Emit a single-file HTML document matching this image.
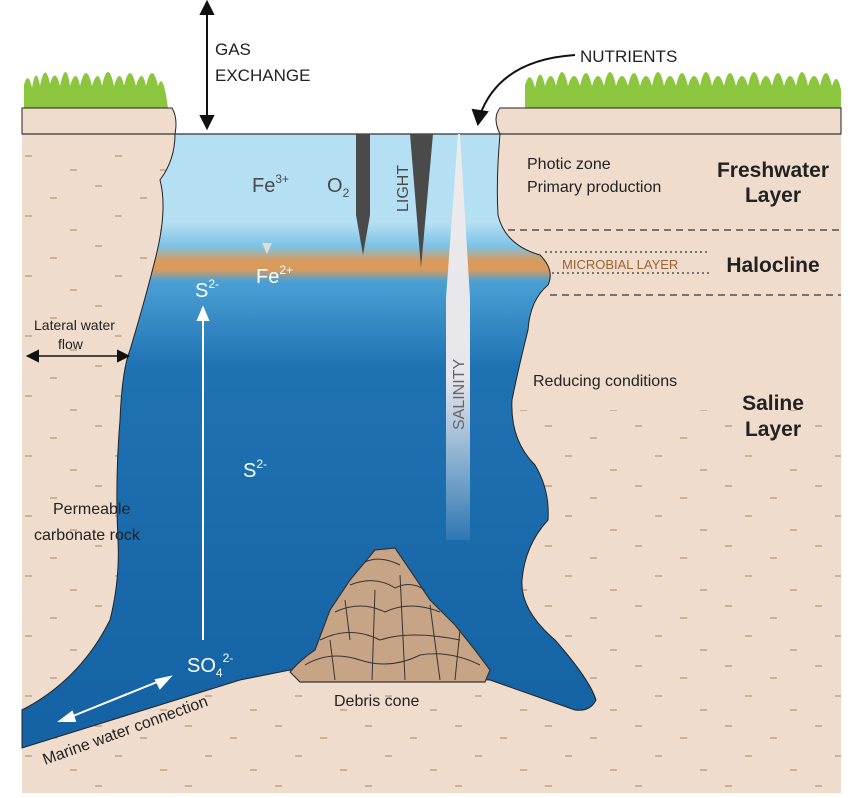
<!DOCTYPE html>
<html><head><meta charset="utf-8"><style>
html,body{margin:0;padding:0;background:#fff}
svg text{font-family:"Liberation Sans","DejaVu Sans",sans-serif}
</style></head><body>
<svg width="850" height="793" viewBox="0 0 850 793" xmlns="http://www.w3.org/2000/svg">
<defs>
<linearGradient id="wg" gradientUnits="userSpaceOnUse" x1="0" y1="135" x2="0" y2="720">
<stop offset="0" stop-color="#b5dff2"/>
<stop offset="0.15" stop-color="#b5dff2"/>
<stop offset="0.19" stop-color="#7cc2e6"/>
<stop offset="0.215" stop-color="#d99a5c"/>
<stop offset="0.23" stop-color="#d99a5c"/>
<stop offset="0.25" stop-color="#4aa0d4"/>
<stop offset="0.4" stop-color="#1f72b2"/>
<stop offset="1" stop-color="#1563a5"/>
</linearGradient>
<linearGradient id="sal" x1="0" y1="0" x2="0" y2="1">
<stop offset="0" stop-color="#ececec"/><stop offset="0.6" stop-color="#e6e6ec"/><stop offset="1" stop-color="#e6e6ec" stop-opacity="0.1"/>
</linearGradient>
<linearGradient id="fe" x1="0" y1="0" x2="0" y2="1">
<stop offset="0" stop-color="#444"/><stop offset="1" stop-color="#ddd"/>
</linearGradient>
<pattern id="dash" width="90" height="60" patternUnits="userSpaceOnUse">
<g stroke="#b89a7a" stroke-width="1.3">
<line x1="5" y1="6" x2="12" y2="6"/><line x1="50" y1="18" x2="57" y2="18"/><line x1="25" y1="36" x2="32" y2="36"/><line x1="70" y1="50" x2="77" y2="50"/>
</g></pattern>
</defs>
<!-- grass -->
<g fill="#8cc63f">
<path d="M24 108 L24 85 Q28 70 32 88 Q36 64 40 86 Q45 60 50 84 Q55 66 60 86 Q66 58 70 86 Q76 66 80 86 Q86 60 92 86 Q98 66 102 86 Q108 58 114 86 Q120 66 124 86 Q130 60 136 86 Q142 66 146 86 Q152 60 158 86 Q163 70 168 108 Z"/>
<path d="M525 108 L525 85 Q530 68 535 88 Q540 62 545 86 Q551 66 556 86 Q562 58 568 86 Q574 66 580 86 Q586 60 592 86 Q598 66 604 86 Q610 58 616 86 Q622 66 628 86 Q634 60 640 86 Q646 66 652 86 Q658 58 664 86 Q670 66 676 86 Q682 60 688 86 Q694 66 700 86 Q706 58 712 86 Q718 66 724 86 Q730 60 736 86 Q742 66 748 86 Q754 58 760 86 Q766 66 772 86 Q778 60 784 86 Q790 66 796 86 Q802 58 808 86 Q814 66 820 86 Q826 60 832 86 Q837 70 841 90 L841 108 Z"/>
</g>
<!-- rock -->
<rect x="22" y="108" width="819" height="685" fill="#f0dccc"/>
<rect x="22" y="140" width="819" height="653" fill="url(#dash)"/>
<rect x="500" y="110" width="341" height="300" fill="#f0dccc"/>
<!-- water -->
<path d="M175 134 L500 134 Q496 180 498 215 Q505 245 540 255 Q555 270 548 285 Q530 300 528 330 Q518 370 512 400 Q510 440 535 465 Q550 490 548 520 Q525 545 522 580 Q520 610 555 640 Q590 680 596 700 Q590 712 575 710 L490 680 L290 670 L240 680 L22 748 L22 710 Q80 680 110 620 Q120 580 118 540 Q115 480 120 420 Q122 370 130 350 Q145 300 155 260 Q168 210 160 180 Q175 160 175 134 Z" fill="url(#wg)" stroke="#222" stroke-width="1"/>
<!-- top white strip & rock tops -->
<rect x="168" y="60" width="335" height="74" fill="#fff"/>
<path d="M22 108 L172 108 Q178 118 175 134 L22 134 Z" fill="#f0dccc" stroke="#222" stroke-width="1"/>
<path d="M841 108 L500 108 Q492 118 500 134 L841 134 Z" fill="#f0dccc" stroke="#222" stroke-width="1"/>
<line x1="22" y1="134" x2="841" y2="134" stroke="#333" stroke-width="1.2"/>
<!-- O2 and light wedges -->
<path d="M356 134 L370 134 L370 215 L363 255 L356 215 Z" fill="#4a4a4a"/>
<path d="M410 134 L433 134 L421 268 Z" fill="#4a4a4a"/>
<!-- salinity -->
<path d="M458 134 L460 134 L470 298 L470 540 L446 540 L446 298 Z" fill="url(#sal)"/>
<!-- debris cone -->
<path d="M290 672 Q300 660 315 650 L330 610 L350 580 L375 550 L395 548 L410 570 L430 600 L455 625 L475 650 L490 670 L485 682 L300 682 Z" fill="#c8a486" stroke="#333" stroke-width="1.2"/>
<g fill="none" stroke="#333" stroke-width="1">
<path d="M305 665 Q330 650 360 660 Q390 670 420 655 Q450 650 480 665"/>
<path d="M320 640 Q350 625 380 640 Q410 630 460 640"/>
<path d="M335 612 Q360 600 385 612 Q410 600 440 612"/>
<path d="M350 585 Q375 575 395 588 Q410 580 425 590"/>
<path d="M365 562 Q380 555 400 565"/>
<path d="M345 600 L350 640 M375 590 L372 680 M400 575 L405 680 M430 605 L440 680 M460 630 L455 680 M330 640 L335 680"/>
</g>
<!-- arrows -->
<g stroke="#111" stroke-width="2" fill="#111">
<line x1="207" y1="12" x2="207" y2="118"/>
<path d="M201 14 L207 2 L213 14 Z"/><path d="M201 116 L207 128 L213 116 Z"/>
<path d="M575 55 Q500 60 480 115" fill="none"/>
<path d="M473 110 L478 124 L487 112 Z"/>
<line x1="34" y1="356" x2="122" y2="356" stroke-width="1.6"/>
<path d="M38 351 L28 356 L38 361 Z"/><path d="M118 351 L128 356 L118 361 Z"/>
</g>
<g stroke="#fff" stroke-width="2" fill="#fff">
<line x1="203" y1="318" x2="203" y2="640"/>
<path d="M198 320 L203 308 L208 320 Z"/>
<line x1="68" y1="718" x2="162" y2="680"/>
<path d="M72 712 L60 721 L75 721 Z"/><path d="M156 680 L170 677 L160 688 Z"/>
</g>
<line x1="267" y1="203" x2="267" y2="245" stroke="url(#fe)" stroke-width="2.5"/>
<path d="M262 243 L267 254 L272 243 Z" fill="#ddd"/>
<!-- dashed lines -->
<g stroke="#333" stroke-width="1.2" fill="none">
<line x1="508" y1="230" x2="841" y2="230" stroke-dasharray="7 5"/>
<line x1="550" y1="295" x2="841" y2="295" stroke-dasharray="7 5"/>
<line x1="545" y1="252" x2="710" y2="252" stroke-dasharray="2 3"/>
<line x1="552" y1="273" x2="712" y2="273" stroke-dasharray="2 3"/>
</g>
<!-- text -->
<g fill="#222" font-size="17">
<text x="215" y="55">GAS</text><text x="215" y="81">EXCHANGE</text>
<text x="580" y="62">NUTRIENTS</text>
</g>
<g fill="#222" font-size="16">
<text x="527" y="169">Photic zone</text><text x="527" y="192">Primary production</text>
<text x="533" y="386">Reducing conditions</text>
<text x="34" y="330" font-size="14">Lateral water</text><text x="58" y="349" font-size="14">flow</text>
<text x="53" y="514">Permeable</text><text x="34" y="540">carbonate rock</text>
<text x="334" y="706">Debris cone</text>
<text x="45" y="765" transform="rotate(-20 45 765)">Marine water connection</text>
</g>
<g fill="#222" font-size="21" font-weight="bold" text-anchor="middle">
<text x="773" y="177">Freshwater</text><text x="773" y="202">Layer</text>
<text x="773" y="272">Halocline</text>
<text x="773" y="410">Saline</text><text x="773" y="436">Layer</text>
</g>
<text x="562" y="269" font-size="13" fill="#9a6332">MICROBIAL LAYER</text>
<g fill="#4a4a4a" font-size="20">
<text x="252" y="192">Fe<tspan font-size="12" dy="-9">3+</tspan></text>
<text x="327" y="192">O<tspan font-size="12" dy="5">2</tspan></text>
<text x="408" y="212" font-size="16" transform="rotate(-90 408 212)">LIGHT</text>
</g>
<g fill="#fff" font-size="20">
<text x="256" y="283">Fe<tspan font-size="12" dy="-9">2+</tspan></text>
<text x="195" y="297">S<tspan font-size="12" dy="-9">2-</tspan></text>
<text x="243" y="477">S<tspan font-size="12" dy="-9">2-</tspan></text>
<text x="187" y="672">SO<tspan font-size="12" dy="5">4</tspan><tspan font-size="12" dy="-15">2-</tspan></text>
</g>
<text x="464" y="430" font-size="16" fill="#666" transform="rotate(-90 464 430)">SALINITY</text>
</svg>
</body></html>
